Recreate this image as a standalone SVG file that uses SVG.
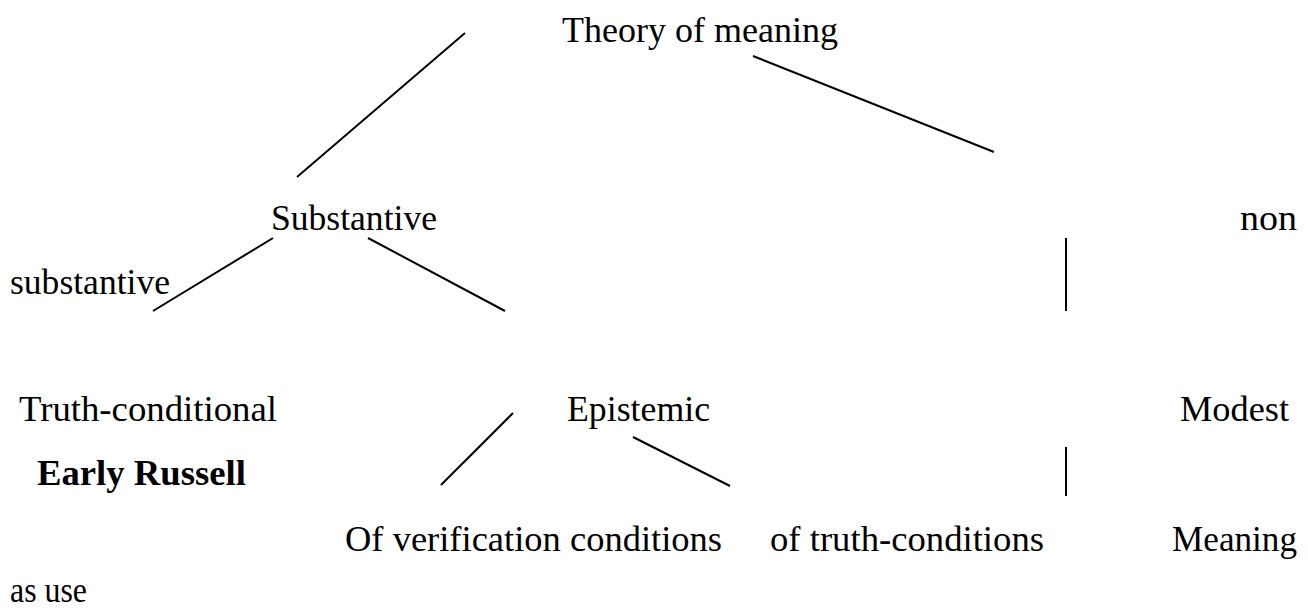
<svg xmlns="http://www.w3.org/2000/svg" width="1308" height="609" viewBox="0 0 1308 609">
<style>
  text { font-family: "Liberation Serif", "DejaVu Serif", serif; font-size: 36px; fill: #000; }
  .b { font-weight: bold; }
  .c line { stroke: #000; stroke-width: 2; stroke-linecap: butt; }
</style>
<rect width="1308" height="609" fill="#fff"/>
<g class="c" id="connectors">
  <line x1="465" y1="33" x2="297" y2="177"/>
  <line x1="753" y1="56" x2="994" y2="152"/>
  <line x1="273" y1="238" x2="153" y2="311"/>
  <line x1="368" y1="238" x2="505" y2="311"/>
  <line x1="1066" y1="238" x2="1066" y2="311"/>
  <line x1="513" y1="413" x2="441" y2="485"/>
  <line x1="633" y1="437" x2="730" y2="486"/>
  <line x1="1066" y1="447" x2="1066" y2="496"/>
</g>
<g id="n-theory"><text x="562" y="42" textLength="276" lengthAdjust="spacingAndGlyphs">Theory of meaning</text></g>
<g id="n-substantive"><text x="271" y="230" textLength="166" lengthAdjust="spacingAndGlyphs">Substantive</text></g>
<g id="n-non"><text x="1240" y="230" textLength="57" lengthAdjust="spacingAndGlyphs">non</text></g>
<g id="n-substantive2"><text x="10" y="294" textLength="160" lengthAdjust="spacingAndGlyphs">substantive</text></g>
<g id="n-truth"><text x="19" y="421" textLength="258" lengthAdjust="spacingAndGlyphs">Truth-conditional</text></g>
<g id="n-epistemic"><text x="567" y="421" textLength="143" lengthAdjust="spacingAndGlyphs">Epistemic</text></g>
<g id="n-modest"><text x="1180" y="421" textLength="109" lengthAdjust="spacingAndGlyphs">Modest</text></g>
<g id="n-russell"><text class="b" x="37" y="485" textLength="209" lengthAdjust="spacingAndGlyphs">Early Russell</text></g>
<g id="n-verif"><text x="345" y="551" textLength="377" lengthAdjust="spacingAndGlyphs">Of verification conditions</text></g>
<g id="n-truthcond"><text x="770" y="551" textLength="274" lengthAdjust="spacingAndGlyphs">of truth-conditions</text></g>
<g id="n-meaning"><text x="1172" y="551" textLength="125" lengthAdjust="spacingAndGlyphs">Meaning</text></g>
<g id="n-asuse"><text x="10" y="602" textLength="77" lengthAdjust="spacingAndGlyphs">as use</text></g>
</svg>
